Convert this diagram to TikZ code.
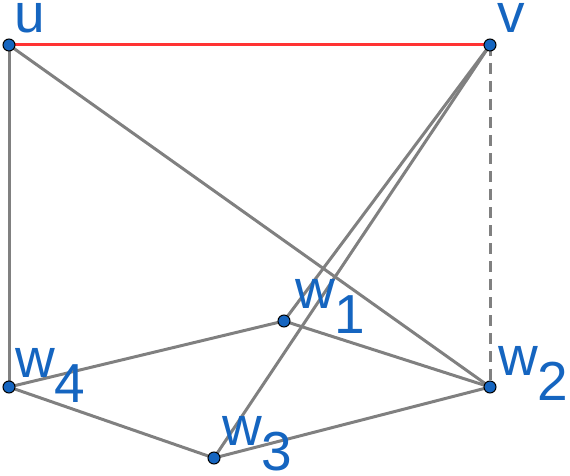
\documentclass[tikz,border=0pt]{standalone}
\usepackage{fontspec}
\setmainfont{Liberation Sans}
\usetikzlibrary{backgrounds}
\definecolor{cBlue}{RGB}{21,101,192}
\definecolor{cGray}{RGB}{128,128,128}
\definecolor{cRed}{RGB}{255,51,51}
\tikzset{
	vtx/.style  ={circle, draw=black, fill=cBlue, line width=1pt, minimum size=12pt, inner sep=0pt},
	lbl/.style  ={anchor=base west, inner sep=0pt, text=cBlue, font=\fontsize{55}{55}\selectfont},
	edge/.style ={draw=cGray, line width=3pt},
}
\newcommand{\lowsub}[1]{\raisebox{-25pt}{#1}}
\begin{document}
\begin{tikzpicture}[x=1pt, y=-1pt]
	\useasboundingbox (0,0) rectangle (570,476);
	% vertices
	\node[vtx] (u)  at (9,45)    {};
	\node[vtx] (v)  at (490,45)  {};
	\node[vtx] (w1) at (284,321) {};
	\node[vtx] (w2) at (490,387) {};
	\node[vtx] (w3) at (214,458) {};
	\node[vtx] (w4) at (9,387)   {};
	% edges, kept behind the vertices
	\begin{scope}[on background layer]
		\draw[edge, draw=cRed] (u.center) -- (v.center);
		\draw[edge] (u.center) -- (w4.center);
		\draw[edge] (u.center) -- (w2.center);
		\draw[edge] (v.center) -- (w1.center);
		\draw[edge] (v.center) -- (w3.center);
		\draw[edge, dash pattern=on 11pt off 7pt] (v.center) -- (w2.center);
		\draw[edge] (w4.center) -- (w1.center);
		\draw[edge] (w1.center) -- (w2.center);
		\draw[edge] (w4.center) -- (w3.center);
		\draw[edge] (w3.center) -- (w2.center);
	\end{scope}
	% labels
	\node[lbl] (lu)  at (14,33)   {u};
	\node[lbl] (lv)  at (497,33)  {v};
	\node[lbl] (lw1) at (295,308) {w\lowsub{1}};
	\node[lbl] (lw2) at (498,375) {w\lowsub{2}};
	\node[lbl] (lw3) at (222,445) {w\lowsub{3}};
	\node[lbl] (lw4) at (15,377)  {w\lowsub{4}};
\end{tikzpicture}
\end{document}
